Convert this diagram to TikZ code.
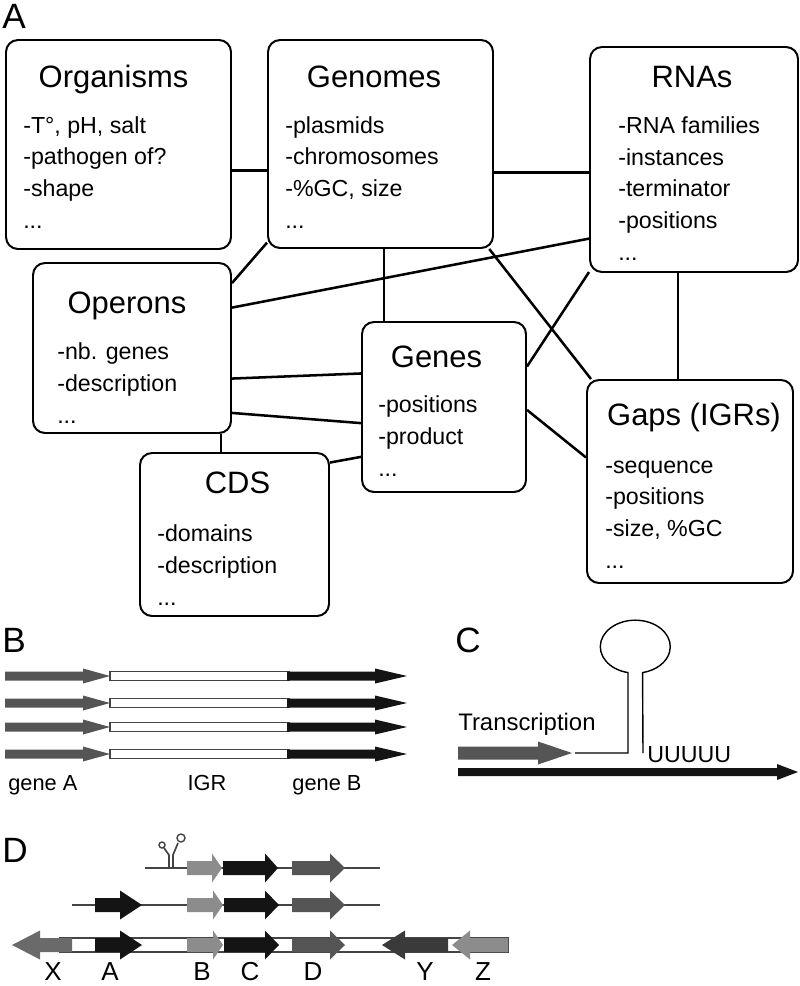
\documentclass[tikz,border=0pt]{standalone}
\usepackage{fontspec}
\setmainfont{Liberation Sans}
\usetikzlibrary{calc}
% filled gene arrow: [style](tail:tip:head start:y)(half shaft:half head)
\def\gene[#1](#2:#3:#4:#5)(#6:#7){\fill[#1] (#2,#5-#6) -- (#4,#5-#6) -- (#4,#5-#7) -- (#3,#5) -- (#4,#5+#7) -- (#4,#5+#6) -- (#2,#5+#6) -- cycle;}

\definecolor{midgray}{HTML}{555555}
\definecolor{nearblack}{HTML}{141414}
\definecolor{lightgray}{HTML}{8C8C8C}
\definecolor{xgray}{HTML}{6A6A6A}
\definecolor{ygray}{HTML}{3A3A3A}
\definecolor{dnagray}{HTML}{444444}

\tikzset{
  entity/.style 2 args={draw, line width=1.4pt, rounded corners=0.3cm, inner sep=0pt,
    minimum width=#1*0.025cm, minimum height=#2*0.025cm},
  boxtitle/.style={anchor=base, inner sep=0pt, font=\fontsize{22}{26}\selectfont},
  % anchored at the baseline of the last line
  items/.style={anchor=base west, inner sep=0pt, align=left, font=\fontsize{16.5}{22.5}\selectfont},
  conn/.style={line width=1.8pt},
  panel/.style={anchor=base west, inner sep=0pt, font=\fontsize{25}{30}\selectfont},
  lbl/.style={anchor=base, inner sep=0pt, font=\fontsize{15.5}{18}\selectfont},
  dna/.style={draw=dnagray, line width=1.2pt},
  strip/.style={draw=dnagray, line width=0.9pt, fill=white},
}

\begin{document}
\begin{tikzpicture}[x=0.025cm, y=-0.025cm]
  \useasboundingbox (0,0) rectangle (800,986);

  %%%%% A: entities %%%%%
  \node[panel] (labA) at (2,28) {A};

  \node[entity={225}{209}] (orgs) at (118.5,144.5) {};
  \node[boxtitle] (orgsT) at (113.5,87) {Organisms};
  \node[items] (orgsL) at (23,228) {-T°, pH, salt\\-pathogen of?\\-shape\\...};

  \node[entity={225}{208}] (gnms) at (380.5,144) {};
  \node[boxtitle] (gnmsT) at (374,87) {Genomes};
  \node[items] (gnmsL) at (285,228) {-plasmids\\-chromosomes\\-\%GC, size\\...};

  \node[entity={208}{225}] (rnas) at (694,159.5) {};
  \node[boxtitle] (rnasT) at (692,87) {RNAs};
  \node[items] (rnasL) at (618,260) {-RNA families\\-instances\\-terminator\\-positions\\...};

  \node[entity={198}{170}] (oprs) at (132,348) {};
  \node[boxtitle] (oprsT) at (127,313) {Operons};
  \node[items] (oprsL) at (57,423) {-nb. genes\\-description\\...};

  \node[entity={164}{170}] (gens) at (444,407) {};
  \node[boxtitle] (gensT) at (436.5,367) {Genes};
  \node[items] (gensL) at (378,476) {-positions\\-product\\...};

  \node[entity={206}{203}] (gaps) at (690,481.5) {};
  \node[boxtitle] (gapsT) at (694,425) {Gaps (IGRs)};
  \node[items] (gapsL) at (605,568) {-sequence\\-positions\\-size, \%GC\\...};

  \node[entity={189}{163}] (cdss) at (234.5,534.5) {};
  \node[boxtitle] (cdssT) at (237.5,493) {CDS};
  \node[items] (cdssL) at (157,605) {-domains\\-description\\...};

  \draw[conn] (orgs.-13.7) -- (orgs.-13.7 -| gnms.west);
  \draw[conn] (gnms.-14) -- (gnms.-14 -| rnas.west);
  \draw[conn] (gnms.221.3) -- (oprs.33.7);
  \draw[conn] (oprs.22.5) -- (rnas.217);
  \draw[conn] (gnms.-88.6) -- (gnms.-88.6 |- gens.north);
  \draw[conn] (gnms.-44.3) -- (gaps.134.6);
  \draw[conn] (gens.26) -- (rnas.227.9);
  \draw[conn] (rnas.262.4) -- (rnas.262.4 |- gaps.north);
  \draw[conn] (oprs.-17.4) -- (gens.158.7);
  \draw[conn] (oprs.-33.3) -- (gens.191);
  \draw[conn] (oprs.-44) -- (oprs.-44 |- cdss.north);
  \draw[conn] (cdss.37.9) -- (gens.211.4);
  \draw[conn] (gens.-2.1) -- (gaps.167.7);

  %%%%% B: aligned IGRs %%%%%
  \node[panel] (labB) at (2,652) {B};
  \foreach \y in {676,703,727,754}{
    \gene[midgray](5:110:83:\y)(4.5:7.5)
    \draw[strip] (110,\y-4.5) rectangle (289,\y+4.5);
    \gene[nearblack](287:407:375:\y)(4.5:7.5)
  }
  \node[lbl, anchor=base west] (geneA) at (8,790) {gene A};
  \node[lbl] (igr) at (207,790) {IGR};
  \node[lbl] (geneB) at (327,790) {gene B};

  %%%%% C: terminator %%%%%
  \node[panel] (labC) at (455,652) {C};
  \gene[midgray](458:572:538:753)(6.5:11.5)
  \gene[nearblack](458:798:777:772)(4:8)
  \draw[line width=1pt] (575,753) -- (628,753) -- (628,672.6)
    arc[start angle=102, end angle=438, x radius=35, y radius=26.5] -- (643,753);
  \node[anchor=base west, inner sep=0pt, font=\fontsize{17}{20}\selectfont] (trsc) at (458,730) {Transcription};
  \node[anchor=base west, inner sep=0pt, font=\fontsize{16.5}{20}\selectfont] (uuu) at (647,762) {UUUUU};

  %%%%% D: operon structures %%%%%
  \node[panel] (labD) at (2,862) {D};

  % first transcript, with terminator
  \draw[dna] (145,868) -- (380,868);
  \draw[dna] (169,868) -- (169,855) -- (164,848);
  \draw[dna] (173,868) -- (173,855) -- (178,843);
  \draw[dna, line width=1pt, fill=white] (162,845) circle (3);
  \draw[dna, line width=1pt, fill=white] (181,838) circle (4);
  \gene[lightgray](187:222:212:868)(7:14.5)
  \gene[nearblack](223:278:265:868)(7:14.5)
  \gene[midgray](292:345:330:868)(7:14.5)

  % second transcript
  \draw[dna] (72,905) -- (380,905);
  \gene[nearblack](95:142:120:905)(7:14.5)
  \gene[lightgray](187:223:213:905)(7:14.5)
  \gene[nearblack](224:279:265:905)(7:14.5)
  \gene[midgray](292:345:330:905)(7:14.5)

  % genome
  \draw[strip] (60,938) rectangle (508,952);
  \gene[xgray](72:12:40:945)(7:14.5)
  \gene[nearblack](95:142:120:945)(7:14.5)
  \gene[lightgray](187:223:213:945)(7:14.5)
  \gene[nearblack](224:279:265:945)(7:14.5)
  \gene[midgray](292:345:330:945)(7:14.5)
  \gene[ygray](448:382:405:945)(7:14.5)
  \gene[lightgray](508:452:470:945)(7:14.5)

  \foreach \n/\x in {X/53,A/110,B/202,C/250,D/313,Y/425,Z/483}
    \node[lbl, font=\fontsize{18.5}{22}\selectfont] (lab\n) at (\x,980) {\n};
\end{tikzpicture}
\end{document}
